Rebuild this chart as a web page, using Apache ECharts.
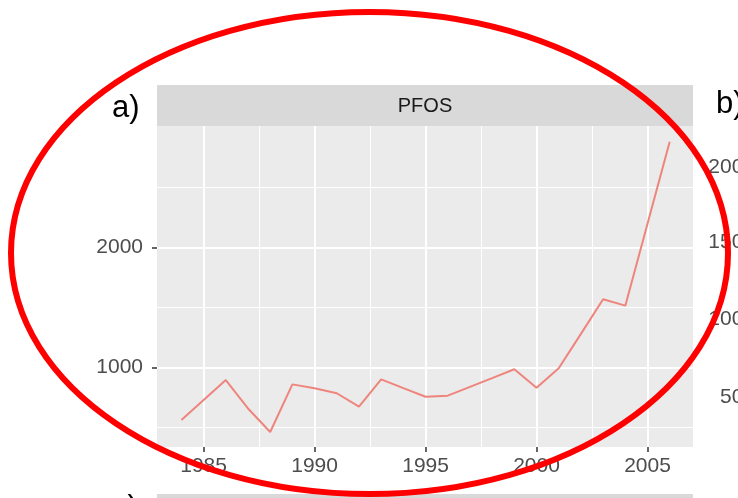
<!DOCTYPE html>
<html>
<head>
<meta charset="utf-8">
<script src="https://cdn.jsdelivr.net/npm/echarts@6/dist/echarts.min.js"></script>
<style>
  html, body { margin: 0; padding: 0; background: #fff; }
  #chart { width: 738px; height: 498px; }
</style>
</head>
<body>
<div id="chart"></div>
<script>
// PFOS by year
const years = [1984, 1985, 1986, 1987, 1988, 1989, 1990, 1991, 1992, 1993, 1994, 1995,
  1996, 1997, 1998, 1999, 2000, 2001, 2002, 2003, 2004, 2005, 2006]
const pfos = [564, 730, 897, 660, 464, 861, 828, 787, 675, 903, 830, 758,
  767, 840, 913, 987, 833, 995, 1282, 1570, 1517, 2200, 2883]

const xTicks = [1985, 1990, 1995, 2000, 2005]
const xMinor = [1987.5, 1992.5, 1997.5, 2002.5]
const yTicks = [1000, 2000]
const yMinor = [500, 1500, 2500]
// labels of the neighbouring panel b), cut by the edge of the picture
const panelBTicks = ['2000', '1500', '1000', '500']

const xMin = 1982.9
const xMax = 2007.05
const yMin = 339
const yMax = 3014

const labelFont = 'Liberation Sans'
const chart = echarts.init(document.getElementById('chart'))

const panelBY = [167.5, 242.5, 319, 397]
const plain = v => String(v)

chart.setOption({
  animation: false,
  grid: {
    left: 157,
    right: 45,
    top: 126,
    bottom: 51,
    show: true,
    backgroundColor: '#EBEBEB',
    borderWidth: 0
  },
  xAxis: [
    {
      type: 'value',
      min: xMin,
      max: xMax,
      axisLine: { show: false },
      axisTick: { show: true, length: 5, customValues: xTicks, lineStyle: { color: '#333', width: 1.5 } },
      axisLabel: { customValues: xTicks, formatter: plain, color: '#4D4D4D', fontSize: 21, margin: 9, fontFamily: labelFont },
      splitLine: { show: true, lineStyle: { color: '#fff', width: 2 } },
      z: 1
    },
    {
      type: 'value',
      min: xMin,
      max: xMax,
      position: 'bottom',
      axisLine: { show: false },
      axisTick: { show: false, customValues: xMinor },
      axisLabel: { show: false, customValues: xMinor },
      splitLine: { show: true, lineStyle: { color: '#fff', width: 1 } },
      z: 0
    }
  ],
  yAxis: [
    {
      type: 'value',
      min: yMin,
      max: yMax,
      axisLine: { show: false },
      axisTick: { show: true, length: 5, customValues: yTicks, lineStyle: { color: '#333', width: 1.5 } },
      axisLabel: { customValues: yTicks, formatter: plain, color: '#4D4D4D', fontSize: 21, margin: 14, fontFamily: labelFont },
      splitLine: { show: true, lineStyle: { color: '#fff', width: 2 } },
      z: 1
    },
    {
      type: 'value',
      min: yMin,
      max: yMax,
      position: 'left',
      axisLine: { show: false },
      axisTick: { show: false, customValues: yMinor },
      axisLabel: { show: false, customValues: yMinor },
      splitLine: { show: true, lineStyle: { color: '#fff', width: 1 } },
      z: 0
    }
  ],
  series: [{
    type: 'line',
    data: years.map((y, i) => [y, pfos[i]]),
    showSymbol: false,
    lineStyle: { color: '#EE857D', width: 2 },
    z: 3
  }],
  graphic: [
    {
      type: 'rect',
      shape: { x: 157, y: 85, width: 536, height: 41 },
      style: { fill: '#D9D9D9' }
    },
    {
      type: 'text',
      x: 425, y: 106,
      style: { text: 'PFOS', fill: '#1A1A1A', fontSize: 20, fontFamily: labelFont, align: 'center', verticalAlign: 'middle' }
    },
    {
      type: 'rect',
      shape: { x: 157, y: 494, width: 536, height: 6 },
      style: { fill: '#D9D9D9' }
    },
    {
      type: 'text',
      x: 112, y: 108,
      style: { text: 'a)', fill: '#000', fontSize: 31, fontFamily: labelFont, align: 'left', verticalAlign: 'middle' }
    },
    {
      type: 'text',
      x: 716, y: 104,
      style: { text: 'b)', fill: '#000', fontSize: 31, fontFamily: labelFont, align: 'left', verticalAlign: 'middle' }
    },
    {
      type: 'text',
      x: 112, y: 508,
      style: { text: 'c)', fill: '#000', fontSize: 31, fontFamily: labelFont, align: 'left', verticalAlign: 'middle' }
    },
    ...panelBTicks.map((t, i) => ({
      type: 'text',
      x: 755, y: panelBY[i],
      style: { text: t, fill: '#4D4D4D', fontSize: 21, fontFamily: labelFont, align: 'right', verticalAlign: 'middle' }
    })),
    {
      type: 'ellipse',
      z: 100,
      shape: { cx: 369.5, cy: 253, rx: 358.5, ry: 241 },
      style: { fill: 'none', stroke: '#FF0000', lineWidth: 6 }
    }
  ]
})
</script>
</body>
</html>
